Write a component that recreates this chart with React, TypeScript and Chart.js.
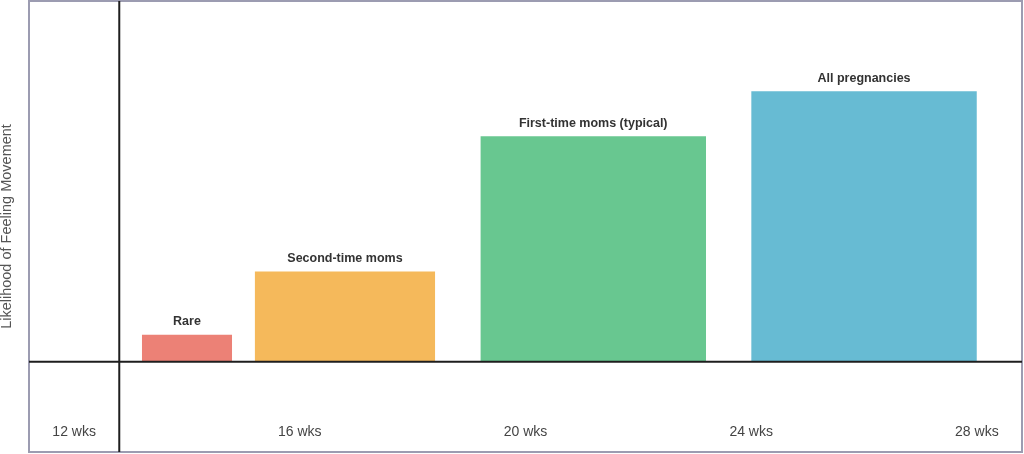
import { useEffect, useRef } from 'react'
import { Chart, registerables } from 'chart.js'

Chart.register(...registerables)

// weeks of pregnancy
const weekTicks = [12, 16, 20, 24, 28]
const weekMin = 11.2
const weekMax = 28.8
const dividerWeek = 12.8

// bars : start/end week, relative likelihood
const barLabels = ['Rare', 'Second-time moms', 'First-time moms (typical)', 'All pregnancies']
const barStart = [13.2, 15.2, 19.2, 24]
const barEnd = [14.8, 18.4, 23.2, 28]
const barHeight = [6, 20, 50, 60]
const barColors = ['#ec8176', '#f5b95b', '#68c790', '#67bbd3']

const yMin = -20
const yMax = 80

const FONT = '"Liberation Sans", Arial, sans-serif'

const framePlugin = {
  id: 'frame',
  beforeDatasetsDraw(chart: Chart) {
    const { ctx, chartArea: a } = chart
    ctx.save()
    ctx.strokeStyle = '#9c9cb1'
    ctx.lineWidth = 2
    ctx.strokeRect(a.left, a.top, a.right - a.left, a.bottom - a.top)
    ctx.restore()
  },
}

const barLabelPlugin = {
  id: 'barLabels',
  afterDatasetsDraw(chart: Chart) {
    const { ctx } = chart
    const xs = chart.scales.x
    const ys = chart.scales.y
    ctx.save()
    ctx.font = `bold 12.5px ${FONT}`
    ctx.fillStyle = '#333'
    ctx.textAlign = 'center'
    ctx.textBaseline = 'middle'
    barLabels.forEach((lbl, i) => {
      const x = xs.getPixelForValue((barStart[i] + barEnd[i]) / 2)
      const y = ys.getPixelForValue(barHeight[i]) - 13
      ctx.fillText(lbl, x, y)
    })
    ctx.restore()
  },
}

export default function App() {
  const ref = useRef<HTMLCanvasElement>(null)

  useEffect(() => {
    document.body.style.margin = '0'
    if (!ref.current) return

    const axisLines = [
      {
        label: 'divider',
        data: [{ x: dividerWeek, y: yMin }, { x: dividerWeek, y: yMax }],
        borderColor: '#1e1e1e', borderWidth: 2, pointRadius: 0, fill: false,
      },
      {
        label: 'baseline',
        data: [{ x: weekMin, y: 0 }, { x: weekMax, y: 0 }],
        borderColor: '#1e1e1e', borderWidth: 2, pointRadius: 0, fill: false,
      },
    ]

    const bars = barLabels.map((lbl, i) => ({
      label: lbl,
      data: [
        { x: barStart[i], y: 0 },
        { x: barStart[i], y: barHeight[i] },
        { x: barEnd[i], y: barHeight[i] },
        { x: barEnd[i], y: 0 },
      ],
      backgroundColor: barColors[i],
      borderWidth: 0,
      pointRadius: 0,
      fill: 'origin' as any,
      tension: 0,
    }))

    const chart = new Chart(ref.current, {
      type: 'line',
      data: { datasets: [...axisLines, ...bars] as any },
      options: {
        responsive: true, maintainAspectRatio: false, animation: false,
        layout: { padding: { top: 1, right: 2, bottom: 2, left: 0 } },
        plugins: { legend: { display: false }, tooltip: { enabled: false } },
        scales: {
          x: {
            type: 'linear', min: weekMin, max: weekMax,
            grid: { display: false }, border: { display: false },
            afterBuildTicks: (s: any) => { s.ticks = weekTicks.map(v => ({ value: v })) },
            afterFit: (s: any) => { s.height = 0 },
            ticks: {
              autoSkip: false, maxRotation: 0, mirror: true, padding: 11,
              color: '#444', font: { family: FONT, size: 14 },
              callback: (v: any) => `${v} wks`,
            },
          },
          y: {
            min: yMin, max: yMax,
            grid: { display: false }, border: { display: false },
            ticks: { display: false },
            afterFit: (s: any) => { s.width = 29 },
            title: {
              display: true, text: 'Likelihood of Feeling Movement',
              color: '#555', font: { family: FONT, size: 14.5, lineHeight: 1 }, padding: 0,
            },
          },
        },
      },
      plugins: [framePlugin, barLabelPlugin],
    })
    return () => chart.destroy()
  }, [])

  return (
    <div style={{ position: 'relative', width: 1024, height: 454, background: '#fff' }}>
      <canvas ref={ref} role="img" aria-label="Likelihood of feeling fetal movement by week" />
    </div>
  )
}
